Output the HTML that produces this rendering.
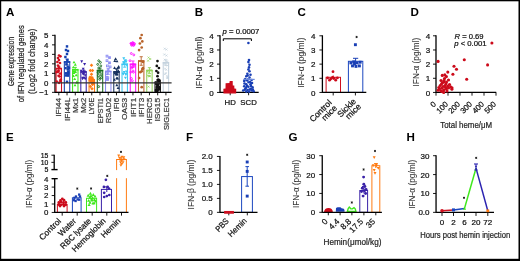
<!DOCTYPE html>
<html><head><meta charset="utf-8"><style>
html,body{margin:0;padding:0;background:#fff;overflow:hidden;}
svg{display:block;will-change:transform;}
text{font-family:"Liberation Sans", sans-serif;}
</style></head><body>
<svg width="520" height="261" viewBox="0 0 520 261">
<rect width="520" height="261" fill="#fff"/>
<rect x="0.00" y="0.00" width="520.00" height="1.30" fill="#000" stroke="none" stroke-width="1"/>
<rect x="0.00" y="0.00" width="1.20" height="261.00" fill="#000" stroke="none" stroke-width="1"/>
<rect x="518.50" y="0.00" width="1.50" height="261.00" fill="#000" stroke="none" stroke-width="1"/>
<rect x="0.00" y="258.80" width="520.00" height="2.20" fill="#000" stroke="none" stroke-width="1"/>
<text x="6.10" y="15.60" font-size="11.6" text-anchor="start" font-weight="bold" fill="#000">A</text>
<text x="194.70" y="15.60" font-size="11.6" text-anchor="start" font-weight="bold" fill="#000">B</text>
<text x="297.50" y="15.80" font-size="11.6" text-anchor="start" font-weight="bold" fill="#000">C</text>
<text x="410.50" y="15.60" font-size="11.6" text-anchor="start" font-weight="bold" fill="#000">D</text>
<text x="5.90" y="141.20" font-size="11.6" text-anchor="start" font-weight="bold" fill="#000">E</text>
<text x="185.90" y="141.20" font-size="11.6" text-anchor="start" font-weight="bold" fill="#000">F</text>
<text x="288.50" y="141.20" font-size="11.6" text-anchor="start" font-weight="bold" fill="#000">G</text>
<text x="406.50" y="141.20" font-size="11.6" text-anchor="start" font-weight="bold" fill="#000">H</text>
<text transform="translate(14.10,61.55) rotate(-90)" font-size="9.9" text-anchor="middle" font-weight="normal" fill="#222" textLength="49.1" lengthAdjust="spacingAndGlyphs" stroke="#222" stroke-width="0.22">Gene expression</text>
<text transform="translate(24.30,63.80) rotate(-90)" font-size="9.9" text-anchor="middle" font-weight="normal" fill="#222" textLength="77.0" lengthAdjust="spacingAndGlyphs" stroke="#222" stroke-width="0.22">of IFN regulated genes</text>
<text transform="translate(34.60,61.30) rotate(-90)" font-size="9.9" text-anchor="middle" font-weight="normal" fill="#222" textLength="65.2" lengthAdjust="spacingAndGlyphs" stroke="#222" stroke-width="0.22">(Log2 fold change)</text>
<line x1="55.00" y1="34.85" x2="55.00" y2="92.85" stroke="#000" stroke-width="1.3"/>
<line x1="52.00" y1="92.35" x2="55.00" y2="92.35" stroke="#000" stroke-width="0.9"/>
<text x="48.30" y="95.25" font-size="7.9" text-anchor="end" font-weight="normal" fill="#111" stroke="#111" stroke-width="0.22">−1</text>
<line x1="52.00" y1="82.85" x2="55.00" y2="82.85" stroke="#000" stroke-width="0.9"/>
<text x="48.30" y="85.75" font-size="7.9" text-anchor="end" font-weight="normal" fill="#111" stroke="#111" stroke-width="0.22">0</text>
<line x1="52.00" y1="73.35" x2="55.00" y2="73.35" stroke="#000" stroke-width="0.9"/>
<text x="48.30" y="76.25" font-size="7.9" text-anchor="end" font-weight="normal" fill="#111" stroke="#111" stroke-width="0.22">1</text>
<line x1="52.00" y1="63.85" x2="55.00" y2="63.85" stroke="#000" stroke-width="0.9"/>
<text x="48.30" y="66.75" font-size="7.9" text-anchor="end" font-weight="normal" fill="#111" stroke="#111" stroke-width="0.22">2</text>
<line x1="52.00" y1="54.35" x2="55.00" y2="54.35" stroke="#000" stroke-width="0.9"/>
<text x="48.30" y="57.25" font-size="7.9" text-anchor="end" font-weight="normal" fill="#111" stroke="#111" stroke-width="0.22">3</text>
<line x1="52.00" y1="44.85" x2="55.00" y2="44.85" stroke="#000" stroke-width="0.9"/>
<text x="48.30" y="47.75" font-size="7.9" text-anchor="end" font-weight="normal" fill="#111" stroke="#111" stroke-width="0.22">4</text>
<line x1="52.00" y1="35.35" x2="55.00" y2="35.35" stroke="#000" stroke-width="0.9"/>
<text x="48.30" y="38.25" font-size="7.9" text-anchor="end" font-weight="normal" fill="#111" stroke="#111" stroke-width="0.22">5</text>
<rect x="56.10" y="68.60" width="5.4" height="23.75" fill="none" stroke="#d0101f" stroke-width="1.05"/>
<line x1="55.60" y1="68.60" x2="62.00" y2="68.60" stroke="#d0101f" stroke-width="1.7"/>
<circle cx="60.33" cy="80.94" r="1.35" fill="#d0101f"/>
<circle cx="57.72" cy="71.97" r="1.35" fill="#d0101f"/>
<circle cx="58.58" cy="75.79" r="1.35" fill="#d0101f"/>
<circle cx="60.07" cy="73.56" r="1.35" fill="#d0101f"/>
<circle cx="56.72" cy="81.51" r="1.35" fill="#d0101f"/>
<circle cx="58.50" cy="70.94" r="1.35" fill="#d0101f"/>
<circle cx="56.61" cy="71.99" r="1.35" fill="#d0101f"/>
<circle cx="59.77" cy="76.50" r="1.35" fill="#d0101f"/>
<circle cx="60.76" cy="79.59" r="1.35" fill="#d0101f"/>
<circle cx="59.00" cy="55.50" r="1.35" fill="#d0101f"/>
<circle cx="60.40" cy="56.30" r="1.35" fill="#d0101f"/>
<circle cx="58.00" cy="58.00" r="1.35" fill="#d0101f"/>
<circle cx="59.00" cy="60.00" r="1.35" fill="#d0101f"/>
<circle cx="57.40" cy="62.00" r="1.35" fill="#d0101f"/>
<circle cx="60.00" cy="63.00" r="1.35" fill="#d0101f"/>
<circle cx="58.00" cy="65.50" r="1.35" fill="#d0101f"/>
<circle cx="59.00" cy="67.50" r="1.35" fill="#d0101f"/>
<circle cx="59.00" cy="82.80" r="1.35" fill="#d0101f"/>
<line x1="58.80" y1="66.22" x2="58.80" y2="70.97" stroke="#d0101f" stroke-width="0.9"/>
<line x1="57.20" y1="66.22" x2="60.40" y2="66.22" stroke="#d0101f" stroke-width="0.9"/>
<line x1="57.20" y1="70.97" x2="60.40" y2="70.97" stroke="#d0101f" stroke-width="0.9"/>
<line x1="58.80" y1="92.35" x2="58.80" y2="95.35" stroke="#000" stroke-width="0.9"/>
<text transform="translate(61.40,97.80) rotate(-90)" font-size="7.6" text-anchor="end" font-weight="normal" fill="#3a3a3a" textLength="18.9" lengthAdjust="spacingAndGlyphs" stroke="#3a3a3a" stroke-width="0.22">IFI44</text>
<rect x="64.34" y="61.95" width="5.4" height="30.40" fill="none" stroke="#1540b0" stroke-width="1.05"/>
<line x1="63.84" y1="61.95" x2="70.24" y2="61.95" stroke="#1540b0" stroke-width="1.7"/>
<rect x="66.72" y="74.41" width="2.43" height="2.43" fill="#1540b0"/>
<rect x="67.76" y="66.64" width="2.43" height="2.43" fill="#1540b0"/>
<rect x="64.75" y="72.07" width="2.43" height="2.43" fill="#1540b0"/>
<rect x="66.52" y="65.47" width="2.43" height="2.43" fill="#1540b0"/>
<rect x="66.64" y="71.62" width="2.43" height="2.43" fill="#1540b0"/>
<rect x="67.05" y="70.28" width="2.43" height="2.43" fill="#1540b0"/>
<rect x="64.61" y="74.25" width="2.43" height="2.43" fill="#1540b0"/>
<rect x="65.20" y="63.09" width="2.43" height="2.43" fill="#1540b0"/>
<rect x="67.16" y="72.22" width="2.43" height="2.43" fill="#1540b0"/>
<rect x="64.28" y="66.93" width="2.43" height="2.43" fill="#1540b0"/>
<rect x="66.55" y="68.08" width="2.43" height="2.43" fill="#1540b0"/>
<rect x="66.49" y="73.58" width="2.43" height="2.43" fill="#1540b0"/>
<rect x="65.78" y="45.18" width="2.43" height="2.43" fill="#1540b0"/>
<rect x="64.78" y="48.78" width="2.43" height="2.43" fill="#1540b0"/>
<rect x="66.78" y="49.78" width="2.43" height="2.43" fill="#1540b0"/>
<rect x="65.78" y="52.78" width="2.43" height="2.43" fill="#1540b0"/>
<rect x="64.19" y="55.78" width="2.43" height="2.43" fill="#1540b0"/>
<rect x="66.19" y="58.78" width="2.43" height="2.43" fill="#1540b0"/>
<rect x="65.78" y="80.58" width="2.43" height="2.43" fill="#1540b0"/>
<line x1="67.04" y1="59.10" x2="67.04" y2="64.80" stroke="#1540b0" stroke-width="0.9"/>
<line x1="65.44" y1="59.10" x2="68.64" y2="59.10" stroke="#1540b0" stroke-width="0.9"/>
<line x1="65.44" y1="64.80" x2="68.64" y2="64.80" stroke="#1540b0" stroke-width="0.9"/>
<line x1="67.04" y1="92.35" x2="67.04" y2="95.35" stroke="#000" stroke-width="0.9"/>
<text transform="translate(69.64,97.80) rotate(-90)" font-size="7.6" text-anchor="end" font-weight="normal" fill="#3a3a3a" textLength="23.3" lengthAdjust="spacingAndGlyphs" stroke="#3a3a3a" stroke-width="0.22">IFI44L</text>
<rect x="72.58" y="69.74" width="5.4" height="22.61" fill="none" stroke="#3fe81c" stroke-width="1.05"/>
<line x1="72.08" y1="69.74" x2="78.48" y2="69.74" stroke="#3fe81c" stroke-width="1.7"/>
<path d="M74.68,76.18L77.65,76.18L76.17,73.50Z" fill="#3fe81c"/>
<path d="M72.46,72.37L75.43,72.37L73.94,69.69Z" fill="#3fe81c"/>
<path d="M75.22,83.38L78.19,83.38L76.71,80.71Z" fill="#3fe81c"/>
<path d="M73.23,80.07L76.20,80.07L74.72,77.40Z" fill="#3fe81c"/>
<path d="M72.40,74.12L75.37,74.12L73.89,71.45Z" fill="#3fe81c"/>
<path d="M73.76,72.95L76.73,72.95L75.24,70.28Z" fill="#3fe81c"/>
<path d="M75.63,83.31L78.60,83.31L77.12,80.63Z" fill="#3fe81c"/>
<path d="M71.94,77.11L74.91,77.11L73.43,74.44Z" fill="#3fe81c"/>
<path d="M72.52,63.34L75.48,63.34L74.00,60.66Z" fill="#3fe81c"/>
<path d="M73.81,65.64L76.78,65.64L75.30,62.96Z" fill="#3fe81c"/>
<path d="M71.81,68.34L74.78,68.34L73.30,65.66Z" fill="#3fe81c"/>
<path d="M73.52,86.34L76.48,86.34L75.00,83.66Z" fill="#3fe81c"/>
<line x1="75.28" y1="67.36" x2="75.28" y2="72.11" stroke="#3fe81c" stroke-width="0.9"/>
<line x1="73.68" y1="67.36" x2="76.88" y2="67.36" stroke="#3fe81c" stroke-width="0.9"/>
<line x1="73.68" y1="72.11" x2="76.88" y2="72.11" stroke="#3fe81c" stroke-width="0.9"/>
<line x1="75.28" y1="92.35" x2="75.28" y2="95.35" stroke="#000" stroke-width="0.9"/>
<text transform="translate(77.88,97.80) rotate(-90)" font-size="7.6" text-anchor="end" font-weight="normal" fill="#3a3a3a" textLength="15.3" lengthAdjust="spacingAndGlyphs" stroke="#3a3a3a" stroke-width="0.22">Mx1</text>
<rect x="80.82" y="71.92" width="5.4" height="20.42" fill="none" stroke="#3a22a8" stroke-width="1.05"/>
<line x1="80.32" y1="71.92" x2="86.72" y2="71.92" stroke="#3a22a8" stroke-width="1.7"/>
<path d="M83.70,74.23L86.67,74.23L85.18,76.90Z" fill="#3a22a8"/>
<path d="M81.08,77.47L84.05,77.47L82.56,80.14Z" fill="#3a22a8"/>
<path d="M82.76,70.40L85.73,70.40L84.24,73.08Z" fill="#3a22a8"/>
<path d="M81.37,76.74L84.34,76.74L82.85,79.41Z" fill="#3a22a8"/>
<path d="M81.77,71.03L84.74,71.03L83.26,73.70Z" fill="#3a22a8"/>
<path d="M83.78,77.50L86.75,77.50L85.26,80.17Z" fill="#3a22a8"/>
<path d="M82.66,76.73L85.63,76.73L84.14,79.40Z" fill="#3a22a8"/>
<path d="M81.86,73.00L84.83,73.00L83.35,75.68Z" fill="#3a22a8"/>
<path d="M80.22,60.36L83.19,60.36L81.70,63.04Z" fill="#3a22a8"/>
<path d="M83.11,63.06L86.08,63.06L84.60,65.74Z" fill="#3a22a8"/>
<path d="M81.72,67.66L84.69,67.66L83.20,70.34Z" fill="#3a22a8"/>
<path d="M79.61,69.66L82.58,69.66L81.10,72.34Z" fill="#3a22a8"/>
<path d="M82.72,70.66L85.69,70.66L84.20,73.34Z" fill="#3a22a8"/>
<line x1="83.52" y1="70.02" x2="83.52" y2="73.82" stroke="#3a22a8" stroke-width="0.9"/>
<line x1="81.92" y1="70.02" x2="85.12" y2="70.02" stroke="#3a22a8" stroke-width="0.9"/>
<line x1="81.92" y1="73.82" x2="85.12" y2="73.82" stroke="#3a22a8" stroke-width="0.9"/>
<line x1="83.52" y1="92.35" x2="83.52" y2="95.35" stroke="#000" stroke-width="0.9"/>
<text transform="translate(86.12,97.80) rotate(-90)" font-size="7.6" text-anchor="end" font-weight="normal" fill="#3a3a3a" textLength="15.3" lengthAdjust="spacingAndGlyphs" stroke="#3a3a3a" stroke-width="0.22">Mx2</text>
<rect x="89.06" y="80.00" width="5.4" height="12.35" fill="none" stroke="#ff7b12" stroke-width="1.05"/>
<line x1="88.56" y1="80.00" x2="94.96" y2="80.00" stroke="#ff7b12" stroke-width="1.7"/>
<path d="M93.48,79.76L95.23,81.51L93.48,83.27L91.72,81.51Z" fill="#ff7b12"/>
<path d="M92.69,81.59L94.45,83.35L92.69,85.10L90.94,83.35Z" fill="#ff7b12"/>
<path d="M91.85,76.11L93.61,77.87L91.85,79.62L90.10,77.87Z" fill="#ff7b12"/>
<path d="M92.76,78.43L94.52,80.18L92.76,81.94L91.01,80.18Z" fill="#ff7b12"/>
<path d="M89.72,77.01L91.48,78.77L89.72,80.52L87.97,78.77Z" fill="#ff7b12"/>
<path d="M91.50,63.54L93.25,65.30L91.50,67.05L89.75,65.30Z" fill="#ff7b12"/>
<path d="M90.40,68.84L92.16,70.60L90.40,72.35L88.65,70.60Z" fill="#ff7b12"/>
<path d="M92.50,68.84L94.25,70.60L92.50,72.35L90.75,70.60Z" fill="#ff7b12"/>
<path d="M91.50,72.45L93.25,74.20L91.50,75.95L89.75,74.20Z" fill="#ff7b12"/>
<path d="M90.00,75.55L91.75,77.30L90.00,79.05L88.25,77.30Z" fill="#ff7b12"/>
<path d="M92.90,77.55L94.66,79.30L92.90,81.05L91.15,79.30Z" fill="#ff7b12"/>
<path d="M90.80,79.65L92.55,81.40L90.80,83.16L89.05,81.40Z" fill="#ff7b12"/>
<path d="M92.50,82.75L94.25,84.50L92.50,86.25L90.75,84.50Z" fill="#ff7b12"/>
<path d="M90.40,84.84L92.16,86.60L90.40,88.35L88.65,86.60Z" fill="#ff7b12"/>
<path d="M92.00,86.95L93.75,88.70L92.00,90.45L90.25,88.70Z" fill="#ff7b12"/>
<line x1="91.76" y1="77.15" x2="91.76" y2="82.85" stroke="#ff7b12" stroke-width="0.9"/>
<line x1="90.16" y1="77.15" x2="93.36" y2="77.15" stroke="#ff7b12" stroke-width="0.9"/>
<line x1="90.16" y1="82.85" x2="93.36" y2="82.85" stroke="#ff7b12" stroke-width="0.9"/>
<line x1="91.76" y1="92.35" x2="91.76" y2="95.35" stroke="#000" stroke-width="0.9"/>
<text transform="translate(94.36,97.80) rotate(-90)" font-size="7.6" text-anchor="end" font-weight="normal" fill="#3a3a3a" textLength="16.8" lengthAdjust="spacingAndGlyphs" stroke="#3a3a3a" stroke-width="0.22">LY6E</text>
<rect x="97.30" y="70.50" width="5.4" height="21.85" fill="none" stroke="#1a6e22" stroke-width="1.05"/>
<line x1="96.80" y1="70.50" x2="103.20" y2="70.50" stroke="#1a6e22" stroke-width="1.7"/>
<circle cx="99.71" cy="79.33" r="0.95" fill="none" stroke="#1a6e22" stroke-width="0.9"/>
<circle cx="99.76" cy="77.66" r="0.95" fill="none" stroke="#1a6e22" stroke-width="0.9"/>
<circle cx="101.59" cy="77.57" r="0.95" fill="none" stroke="#1a6e22" stroke-width="0.9"/>
<circle cx="101.07" cy="74.68" r="0.95" fill="none" stroke="#1a6e22" stroke-width="0.9"/>
<circle cx="99.98" cy="71.20" r="0.95" fill="none" stroke="#1a6e22" stroke-width="0.9"/>
<circle cx="98.36" cy="75.55" r="0.95" fill="none" stroke="#1a6e22" stroke-width="0.9"/>
<circle cx="98.11" cy="72.55" r="0.95" fill="none" stroke="#1a6e22" stroke-width="0.9"/>
<circle cx="98.70" cy="60.70" r="0.95" fill="none" stroke="#1a6e22" stroke-width="0.9"/>
<circle cx="100.40" cy="62.40" r="0.95" fill="none" stroke="#1a6e22" stroke-width="0.9"/>
<circle cx="97.70" cy="64.40" r="0.95" fill="none" stroke="#1a6e22" stroke-width="0.9"/>
<circle cx="100.80" cy="65.90" r="0.95" fill="none" stroke="#1a6e22" stroke-width="0.9"/>
<circle cx="98.70" cy="68.00" r="0.95" fill="none" stroke="#1a6e22" stroke-width="0.9"/>
<circle cx="98.70" cy="86.60" r="0.95" fill="none" stroke="#1a6e22" stroke-width="0.9"/>
<line x1="100.00" y1="68.12" x2="100.00" y2="72.88" stroke="#1a6e22" stroke-width="0.9"/>
<line x1="98.40" y1="68.12" x2="101.60" y2="68.12" stroke="#1a6e22" stroke-width="0.9"/>
<line x1="98.40" y1="72.88" x2="101.60" y2="72.88" stroke="#1a6e22" stroke-width="0.9"/>
<line x1="100.00" y1="92.35" x2="100.00" y2="95.35" stroke="#000" stroke-width="0.9"/>
<text transform="translate(102.60,97.80) rotate(-90)" font-size="7.6" text-anchor="end" font-weight="normal" fill="#3a3a3a" textLength="25.5" lengthAdjust="spacingAndGlyphs" stroke="#3a3a3a" stroke-width="0.22">EPSTI1</text>
<rect x="105.54" y="71.45" width="5.4" height="20.90" fill="none" stroke="#8c8cf2" stroke-width="1.05"/>
<line x1="105.04" y1="71.45" x2="111.44" y2="71.45" stroke="#8c8cf2" stroke-width="1.7"/>
<rect x="106.68" y="78.53" width="1.80" height="1.80" fill="none" stroke="#8c8cf2" stroke-width="0.9"/>
<rect x="106.22" y="78.35" width="1.80" height="1.80" fill="none" stroke="#8c8cf2" stroke-width="0.9"/>
<rect x="105.82" y="72.81" width="1.80" height="1.80" fill="none" stroke="#8c8cf2" stroke-width="0.9"/>
<rect x="106.02" y="76.38" width="1.80" height="1.80" fill="none" stroke="#8c8cf2" stroke-width="0.9"/>
<rect x="107.30" y="69.87" width="1.80" height="1.80" fill="none" stroke="#8c8cf2" stroke-width="0.9"/>
<rect x="106.94" y="76.82" width="1.80" height="1.80" fill="none" stroke="#8c8cf2" stroke-width="0.9"/>
<rect x="106.10" y="55.20" width="1.80" height="1.80" fill="none" stroke="#8c8cf2" stroke-width="0.9"/>
<rect x="108.60" y="56.70" width="1.80" height="1.80" fill="none" stroke="#8c8cf2" stroke-width="0.9"/>
<rect x="106.10" y="59.80" width="1.80" height="1.80" fill="none" stroke="#8c8cf2" stroke-width="0.9"/>
<rect x="108.60" y="61.90" width="1.80" height="1.80" fill="none" stroke="#8c8cf2" stroke-width="0.9"/>
<rect x="106.50" y="65.00" width="1.80" height="1.80" fill="none" stroke="#8c8cf2" stroke-width="0.9"/>
<rect x="109.20" y="66.00" width="1.80" height="1.80" fill="none" stroke="#8c8cf2" stroke-width="0.9"/>
<line x1="108.24" y1="68.60" x2="108.24" y2="74.30" stroke="#8c8cf2" stroke-width="0.9"/>
<line x1="106.64" y1="68.60" x2="109.84" y2="68.60" stroke="#8c8cf2" stroke-width="0.9"/>
<line x1="106.64" y1="74.30" x2="109.84" y2="74.30" stroke="#8c8cf2" stroke-width="0.9"/>
<line x1="108.24" y1="92.35" x2="108.24" y2="95.35" stroke="#000" stroke-width="0.9"/>
<text transform="translate(110.84,97.80) rotate(-90)" font-size="7.6" text-anchor="end" font-weight="normal" fill="#3a3a3a" textLength="25.5" lengthAdjust="spacingAndGlyphs" stroke="#3a3a3a" stroke-width="0.22">RSAD2</text>
<rect x="113.78" y="71.92" width="5.4" height="20.42" fill="none" stroke="#17305e" stroke-width="1.05"/>
<line x1="113.28" y1="71.92" x2="119.68" y2="71.92" stroke="#17305e" stroke-width="1.7"/>
<path d="M115.28,79.24L118.25,79.24L116.77,76.56Z" fill="#17305e"/>
<path d="M115.39,75.46L118.36,75.46L116.87,72.79Z" fill="#17305e"/>
<path d="M117.05,68.77L120.02,68.77L118.53,66.10Z" fill="#17305e"/>
<path d="M116.35,72.31L119.32,72.31L117.84,69.63Z" fill="#17305e"/>
<path d="M114.87,75.13L117.84,75.13L116.35,72.45Z" fill="#17305e"/>
<path d="M117.18,67.74L120.15,67.74L118.66,65.07Z" fill="#17305e"/>
<path d="M115.57,75.06L118.54,75.06L117.06,72.39Z" fill="#17305e"/>
<path d="M116.59,89.12L119.56,89.12L118.07,86.45Z" fill="#17305e"/>
<path d="M115.58,73.16L118.55,73.16L117.07,70.48Z" fill="#17305e"/>
<path d="M115.35,86.29L118.32,86.29L116.84,83.62Z" fill="#17305e"/>
<path d="M113.48,74.14L116.45,74.14L114.97,71.47Z" fill="#17305e"/>
<path d="M116.07,79.50L119.04,79.50L117.55,76.83Z" fill="#17305e"/>
<path d="M115.93,69.34L118.90,69.34L117.42,66.67Z" fill="#17305e"/>
<path d="M116.98,72.27L119.95,72.27L118.46,69.60Z" fill="#17305e"/>
<path d="M113.10,69.04L116.07,69.04L114.58,66.37Z" fill="#17305e"/>
<path d="M112.95,80.85L115.92,80.85L114.43,78.18Z" fill="#17305e"/>
<path d="M114.11,59.94L117.08,59.94L115.60,57.26Z" fill="#17305e"/>
<path d="M113.31,62.04L116.28,62.04L114.80,59.36Z" fill="#17305e"/>
<path d="M115.52,62.34L118.48,62.34L117.00,59.66Z" fill="#17305e"/>
<line x1="116.48" y1="69.07" x2="116.48" y2="74.77" stroke="#17305e" stroke-width="0.9"/>
<line x1="114.88" y1="69.07" x2="118.08" y2="69.07" stroke="#17305e" stroke-width="0.9"/>
<line x1="114.88" y1="74.77" x2="118.08" y2="74.77" stroke="#17305e" stroke-width="0.9"/>
<line x1="116.48" y1="92.35" x2="116.48" y2="95.35" stroke="#000" stroke-width="0.9"/>
<text transform="translate(119.08,97.80) rotate(-90)" font-size="7.6" text-anchor="end" font-weight="normal" fill="#3a3a3a" textLength="13.8" lengthAdjust="spacingAndGlyphs" stroke="#3a3a3a" stroke-width="0.22">IFI6</text>
<rect x="122.02" y="64.32" width="5.4" height="28.03" fill="none" stroke="#3cc6f2" stroke-width="1.05"/>
<line x1="121.52" y1="64.32" x2="127.92" y2="64.32" stroke="#3cc6f2" stroke-width="1.7"/>
<path d="M122.57,62.10L125.54,62.10L124.06,64.77Z" fill="#3cc6f2"/>
<path d="M125.22,63.84L128.19,63.84L126.71,66.51Z" fill="#3cc6f2"/>
<path d="M124.42,73.38L127.39,73.38L125.90,76.06Z" fill="#3cc6f2"/>
<path d="M121.76,72.94L124.73,72.94L123.24,75.61Z" fill="#3cc6f2"/>
<path d="M124.34,72.66L127.31,72.66L125.83,75.34Z" fill="#3cc6f2"/>
<path d="M123.94,76.67L126.91,76.67L125.42,79.34Z" fill="#3cc6f2"/>
<path d="M121.78,72.61L124.75,72.61L123.26,75.28Z" fill="#3cc6f2"/>
<path d="M122.74,71.03L125.71,71.03L124.22,73.71Z" fill="#3cc6f2"/>
<path d="M124.91,70.43L127.88,70.43L126.40,73.10Z" fill="#3cc6f2"/>
<path d="M122.03,61.25L125.00,61.25L123.52,63.93Z" fill="#3cc6f2"/>
<path d="M123.73,59.91L126.70,59.91L125.21,62.58Z" fill="#3cc6f2"/>
<path d="M124.63,60.47L127.60,60.47L126.11,63.14Z" fill="#3cc6f2"/>
<path d="M122.31,57.26L125.28,57.26L123.80,59.94Z" fill="#3cc6f2"/>
<path d="M124.02,59.16L126.98,59.16L125.50,61.84Z" fill="#3cc6f2"/>
<line x1="124.72" y1="61.47" x2="124.72" y2="67.17" stroke="#3cc6f2" stroke-width="0.9"/>
<line x1="123.12" y1="61.47" x2="126.32" y2="61.47" stroke="#3cc6f2" stroke-width="0.9"/>
<line x1="123.12" y1="67.17" x2="126.32" y2="67.17" stroke="#3cc6f2" stroke-width="0.9"/>
<line x1="124.72" y1="92.35" x2="124.72" y2="95.35" stroke="#000" stroke-width="0.9"/>
<text transform="translate(127.32,97.80) rotate(-90)" font-size="7.6" text-anchor="end" font-weight="normal" fill="#3a3a3a" textLength="22.2" lengthAdjust="spacingAndGlyphs" stroke="#3a3a3a" stroke-width="0.22">OAS3</text>
<rect x="130.26" y="64.32" width="5.4" height="28.03" fill="none" stroke="#ff10ff" stroke-width="1.05"/>
<line x1="129.76" y1="64.32" x2="136.16" y2="64.32" stroke="#ff10ff" stroke-width="1.7"/>
<circle cx="131.56" cy="67.99" r="0.95" fill="none" stroke="#ff10ff" stroke-width="0.9"/>
<circle cx="132.35" cy="80.78" r="0.95" fill="none" stroke="#ff10ff" stroke-width="0.9"/>
<circle cx="132.10" cy="66.80" r="0.95" fill="none" stroke="#ff10ff" stroke-width="0.9"/>
<circle cx="133.43" cy="64.34" r="0.95" fill="none" stroke="#ff10ff" stroke-width="0.9"/>
<circle cx="133.44" cy="72.24" r="0.95" fill="none" stroke="#ff10ff" stroke-width="0.9"/>
<circle cx="133.03" cy="70.95" r="0.95" fill="none" stroke="#ff10ff" stroke-width="0.9"/>
<circle cx="133.78" cy="65.86" r="0.95" fill="none" stroke="#ff10ff" stroke-width="0.9"/>
<circle cx="130.79" cy="72.11" r="0.95" fill="none" stroke="#ff10ff" stroke-width="0.9"/>
<circle cx="131.34" cy="78.48" r="0.95" fill="none" stroke="#ff10ff" stroke-width="0.9"/>
<circle cx="130.90" cy="43.40" r="0.95" fill="none" stroke="#ff10ff" stroke-width="0.9"/>
<circle cx="132.60" cy="42.60" r="0.95" fill="none" stroke="#ff10ff" stroke-width="0.9"/>
<circle cx="134.40" cy="43.60" r="0.95" fill="none" stroke="#ff10ff" stroke-width="0.9"/>
<circle cx="131.60" cy="45.20" r="0.95" fill="none" stroke="#ff10ff" stroke-width="0.9"/>
<circle cx="133.60" cy="45.40" r="0.95" fill="none" stroke="#ff10ff" stroke-width="0.9"/>
<circle cx="131.30" cy="53.50" r="0.95" fill="none" stroke="#ff10ff" stroke-width="0.9"/>
<circle cx="133.80" cy="54.90" r="0.95" fill="none" stroke="#ff10ff" stroke-width="0.9"/>
<circle cx="130.00" cy="60.70" r="0.95" fill="none" stroke="#ff10ff" stroke-width="0.9"/>
<line x1="132.96" y1="61.00" x2="132.96" y2="67.65" stroke="#ff10ff" stroke-width="0.9"/>
<line x1="131.36" y1="61.00" x2="134.56" y2="61.00" stroke="#ff10ff" stroke-width="0.9"/>
<line x1="131.36" y1="67.65" x2="134.56" y2="67.65" stroke="#ff10ff" stroke-width="0.9"/>
<line x1="132.96" y1="92.35" x2="132.96" y2="95.35" stroke="#000" stroke-width="0.9"/>
<text transform="translate(135.56,97.80) rotate(-90)" font-size="7.6" text-anchor="end" font-weight="normal" fill="#3a3a3a" textLength="19.2" lengthAdjust="spacingAndGlyphs" stroke="#3a3a3a" stroke-width="0.22">IFIT1</text>
<rect x="138.50" y="61.00" width="5.4" height="31.35" fill="none" stroke="#b8632a" stroke-width="1.05"/>
<line x1="138.00" y1="61.00" x2="144.40" y2="61.00" stroke="#b8632a" stroke-width="1.7"/>
<circle cx="142.39" cy="69.15" r="1.35" fill="#b8632a"/>
<circle cx="140.26" cy="72.19" r="1.35" fill="#b8632a"/>
<circle cx="142.94" cy="68.16" r="1.35" fill="#b8632a"/>
<circle cx="141.70" cy="35.00" r="1.35" fill="#b8632a"/>
<circle cx="140.40" cy="38.20" r="1.35" fill="#b8632a"/>
<circle cx="142.30" cy="41.40" r="1.35" fill="#b8632a"/>
<circle cx="139.90" cy="43.50" r="1.35" fill="#b8632a"/>
<circle cx="141.70" cy="47.50" r="1.35" fill="#b8632a"/>
<circle cx="139.10" cy="50.10" r="1.35" fill="#b8632a"/>
<circle cx="143.00" cy="62.00" r="1.35" fill="#b8632a"/>
<circle cx="141.70" cy="71.30" r="1.35" fill="#b8632a"/>
<circle cx="139.10" cy="78.00" r="1.35" fill="#b8632a"/>
<circle cx="141.70" cy="87.20" r="1.35" fill="#b8632a"/>
<line x1="141.20" y1="56.72" x2="141.20" y2="65.27" stroke="#b8632a" stroke-width="0.9"/>
<line x1="139.60" y1="56.72" x2="142.80" y2="56.72" stroke="#b8632a" stroke-width="0.9"/>
<line x1="139.60" y1="65.27" x2="142.80" y2="65.27" stroke="#b8632a" stroke-width="0.9"/>
<line x1="141.20" y1="92.35" x2="141.20" y2="95.35" stroke="#000" stroke-width="0.9"/>
<text transform="translate(143.80,97.80) rotate(-90)" font-size="7.6" text-anchor="end" font-weight="normal" fill="#3a3a3a" textLength="19.2" lengthAdjust="spacingAndGlyphs" stroke="#3a3a3a" stroke-width="0.22">IFIT3</text>
<rect x="146.74" y="70.50" width="5.4" height="21.85" fill="none" stroke="#94d45a" stroke-width="1.05"/>
<line x1="146.24" y1="70.50" x2="152.64" y2="70.50" stroke="#94d45a" stroke-width="1.7"/>
<path d="M148.24,74.84L150.24,76.84M150.24,74.84L148.24,76.84" stroke="#94d45a" stroke-width="0.7"/>
<path d="M149.42,69.18L151.42,71.18M151.42,69.18L149.42,71.18" stroke="#94d45a" stroke-width="0.7"/>
<path d="M146.63,70.72L148.63,72.72M148.63,70.72L146.63,72.72" stroke="#94d45a" stroke-width="0.7"/>
<path d="M148.83,75.28L150.83,77.28M150.83,75.28L148.83,77.28" stroke="#94d45a" stroke-width="0.7"/>
<path d="M146.83,74.64L148.83,76.64M148.83,74.64L146.83,76.64" stroke="#94d45a" stroke-width="0.7"/>
<path d="M148.30,75.17L150.30,77.17M150.30,75.17L148.30,77.17" stroke="#94d45a" stroke-width="0.7"/>
<path d="M147.60,56.60L149.60,58.60M149.60,56.60L147.60,58.60" stroke="#94d45a" stroke-width="0.7"/>
<path d="M149.20,58.00L151.20,60.00M151.20,58.00L149.20,60.00" stroke="#94d45a" stroke-width="0.7"/>
<path d="M147.10,59.70L149.10,61.70M149.10,59.70L147.10,61.70" stroke="#94d45a" stroke-width="0.7"/>
<path d="M147.60,85.60L149.60,87.60M149.60,85.60L147.60,87.60" stroke="#94d45a" stroke-width="0.7"/>
<line x1="149.44" y1="67.65" x2="149.44" y2="73.35" stroke="#94d45a" stroke-width="0.9"/>
<line x1="147.84" y1="67.65" x2="151.04" y2="67.65" stroke="#94d45a" stroke-width="0.9"/>
<line x1="147.84" y1="73.35" x2="151.04" y2="73.35" stroke="#94d45a" stroke-width="0.9"/>
<line x1="149.44" y1="92.35" x2="149.44" y2="95.35" stroke="#000" stroke-width="0.9"/>
<text transform="translate(152.04,97.80) rotate(-90)" font-size="7.6" text-anchor="end" font-weight="normal" fill="#3a3a3a" textLength="26.1" lengthAdjust="spacingAndGlyphs" stroke="#3a3a3a" stroke-width="0.22">HERC5</text>
<rect x="154.98" y="82.38" width="5.4" height="9.97" fill="none" stroke="#111111" stroke-width="1.05"/>
<line x1="154.48" y1="82.38" x2="160.88" y2="82.38" stroke="#111111" stroke-width="1.7"/>
<circle cx="156.47" cy="83.85" r="1.35" fill="#111111"/>
<circle cx="157.02" cy="91.20" r="1.35" fill="#111111"/>
<circle cx="159.07" cy="88.54" r="1.35" fill="#111111"/>
<circle cx="156.47" cy="90.28" r="1.35" fill="#111111"/>
<circle cx="155.96" cy="90.09" r="1.35" fill="#111111"/>
<circle cx="159.31" cy="82.85" r="1.35" fill="#111111"/>
<circle cx="157.15" cy="86.56" r="1.35" fill="#111111"/>
<circle cx="158.50" cy="87.73" r="1.35" fill="#111111"/>
<circle cx="157.57" cy="90.14" r="1.35" fill="#111111"/>
<circle cx="159.25" cy="89.31" r="1.35" fill="#111111"/>
<circle cx="158.68" cy="83.41" r="1.35" fill="#111111"/>
<circle cx="156.97" cy="87.31" r="1.35" fill="#111111"/>
<circle cx="158.00" cy="79.88" r="1.35" fill="#111111"/>
<circle cx="156.55" cy="84.06" r="1.35" fill="#111111"/>
<circle cx="159.31" cy="80.55" r="1.35" fill="#111111"/>
<circle cx="159.33" cy="80.56" r="1.35" fill="#111111"/>
<circle cx="159.31" cy="87.14" r="1.35" fill="#111111"/>
<circle cx="157.73" cy="84.61" r="1.35" fill="#111111"/>
<circle cx="156.10" cy="91.04" r="1.35" fill="#111111"/>
<circle cx="159.77" cy="82.59" r="1.35" fill="#111111"/>
<circle cx="158.81" cy="81.95" r="1.35" fill="#111111"/>
<circle cx="156.09" cy="82.54" r="1.35" fill="#111111"/>
<circle cx="157.11" cy="83.64" r="1.35" fill="#111111"/>
<circle cx="158.57" cy="79.92" r="1.35" fill="#111111"/>
<circle cx="157.82" cy="85.54" r="1.35" fill="#111111"/>
<circle cx="156.69" cy="89.42" r="1.35" fill="#111111"/>
<circle cx="157.50" cy="61.10" r="1.35" fill="#111111"/>
<circle cx="156.80" cy="65.90" r="1.35" fill="#111111"/>
<circle cx="158.90" cy="68.00" r="1.35" fill="#111111"/>
<circle cx="156.40" cy="71.00" r="1.35" fill="#111111"/>
<circle cx="158.10" cy="72.70" r="1.35" fill="#111111"/>
<circle cx="157.50" cy="76.20" r="1.35" fill="#111111"/>
<line x1="157.68" y1="80.00" x2="157.68" y2="84.75" stroke="#111111" stroke-width="0.9"/>
<line x1="156.08" y1="80.00" x2="159.28" y2="80.00" stroke="#111111" stroke-width="0.9"/>
<line x1="156.08" y1="84.75" x2="159.28" y2="84.75" stroke="#111111" stroke-width="0.9"/>
<line x1="157.68" y1="92.35" x2="157.68" y2="95.35" stroke="#000" stroke-width="0.9"/>
<text transform="translate(160.28,97.80) rotate(-90)" font-size="7.6" text-anchor="end" font-weight="normal" fill="#3a3a3a" textLength="23.8" lengthAdjust="spacingAndGlyphs" stroke="#3a3a3a" stroke-width="0.22">ISG15</text>
<rect x="163.22" y="62.71" width="5.4" height="29.64" fill="none" stroke="#c4d2de" stroke-width="1.05"/>
<line x1="162.72" y1="62.71" x2="169.12" y2="62.71" stroke="#c4d2de" stroke-width="1.7"/>
<path d="M166.72,64.38L168.72,66.38M168.72,64.38L166.72,66.38" stroke="#c4d2de" stroke-width="0.7"/>
<path d="M164.10,67.63L166.10,69.63M166.10,67.63L164.10,69.63" stroke="#c4d2de" stroke-width="0.7"/>
<path d="M163.89,73.19L165.89,75.19M165.89,73.19L163.89,75.19" stroke="#c4d2de" stroke-width="0.7"/>
<path d="M166.22,75.14L168.22,77.14M168.22,75.14L166.22,77.14" stroke="#c4d2de" stroke-width="0.7"/>
<path d="M166.71,76.86L168.71,78.86M168.71,76.86L166.71,78.86" stroke="#c4d2de" stroke-width="0.7"/>
<path d="M164.91,72.19L166.91,74.19M166.91,72.19L164.91,74.19" stroke="#c4d2de" stroke-width="0.7"/>
<path d="M165.25,68.74L167.25,70.74M167.25,68.74L165.25,70.74" stroke="#c4d2de" stroke-width="0.7"/>
<path d="M166.34,77.00L168.34,79.00M168.34,77.00L166.34,79.00" stroke="#c4d2de" stroke-width="0.7"/>
<path d="M163.70,47.70L165.70,49.70M165.70,47.70L163.70,49.70" stroke="#c4d2de" stroke-width="0.7"/>
<path d="M165.50,48.50L167.50,50.50M167.50,48.50L165.50,50.50" stroke="#c4d2de" stroke-width="0.7"/>
<path d="M163.30,53.50L165.30,55.50M165.30,53.50L163.30,55.50" stroke="#c4d2de" stroke-width="0.7"/>
<path d="M165.50,54.50L167.50,56.50M167.50,54.50L165.50,56.50" stroke="#c4d2de" stroke-width="0.7"/>
<path d="M163.70,58.70L165.70,60.70M165.70,58.70L163.70,60.70" stroke="#c4d2de" stroke-width="0.7"/>
<path d="M166.00,60.50L168.00,62.50M168.00,60.50L166.00,62.50" stroke="#c4d2de" stroke-width="0.7"/>
<path d="M163.70,63.00L165.70,65.00M165.70,63.00L163.70,65.00" stroke="#c4d2de" stroke-width="0.7"/>
<line x1="165.92" y1="59.86" x2="165.92" y2="65.56" stroke="#c4d2de" stroke-width="0.9"/>
<line x1="164.32" y1="59.86" x2="167.52" y2="59.86" stroke="#c4d2de" stroke-width="0.9"/>
<line x1="164.32" y1="65.56" x2="167.52" y2="65.56" stroke="#c4d2de" stroke-width="0.9"/>
<line x1="165.92" y1="92.35" x2="165.92" y2="95.35" stroke="#000" stroke-width="0.9"/>
<text transform="translate(168.52,97.80) rotate(-90)" font-size="7.6" text-anchor="end" font-weight="normal" fill="#3a3a3a" textLength="32.2" lengthAdjust="spacingAndGlyphs" stroke="#3a3a3a" stroke-width="0.22">SIGLEC1</text>
<circle cx="131.20" cy="43.60" r="1.2" fill="#ff10ff"/>
<circle cx="133.20" cy="43.00" r="1.2" fill="#ff10ff"/>
<circle cx="132.40" cy="45.00" r="1.2" fill="#ff10ff"/>
<circle cx="134.20" cy="44.40" r="1.2" fill="#ff10ff"/>
<text transform="translate(202.10,62.55) rotate(-90)" font-size="8.4" text-anchor="middle" font-weight="normal" fill="#333" textLength="52.2" lengthAdjust="spacingAndGlyphs" stroke="#333" stroke-width="0.08">IFN-α (pg/ml)</text>
<line x1="220.00" y1="35.31" x2="220.00" y2="92.95" stroke="#000" stroke-width="1.3"/>
<line x1="217.00" y1="92.45" x2="220.00" y2="92.45" stroke="#000" stroke-width="0.9"/>
<text x="213.60" y="95.65" font-size="8.0" text-anchor="end" font-weight="normal" fill="#111" stroke="#111" stroke-width="0.22">0</text>
<line x1="217.00" y1="78.29" x2="220.00" y2="78.29" stroke="#000" stroke-width="0.9"/>
<text x="213.60" y="81.49" font-size="8.0" text-anchor="end" font-weight="normal" fill="#111" stroke="#111" stroke-width="0.22">1</text>
<line x1="217.00" y1="64.13" x2="220.00" y2="64.13" stroke="#000" stroke-width="0.9"/>
<text x="213.60" y="67.33" font-size="8.0" text-anchor="end" font-weight="normal" fill="#111" stroke="#111" stroke-width="0.22">2</text>
<line x1="217.00" y1="49.97" x2="220.00" y2="49.97" stroke="#000" stroke-width="0.9"/>
<text x="213.60" y="53.17" font-size="8.0" text-anchor="end" font-weight="normal" fill="#111" stroke="#111" stroke-width="0.22">3</text>
<line x1="217.00" y1="35.81" x2="220.00" y2="35.81" stroke="#000" stroke-width="0.9"/>
<text x="213.60" y="39.01" font-size="8.0" text-anchor="end" font-weight="normal" fill="#111" stroke="#111" stroke-width="0.22">4</text>
<line x1="220.00" y1="92.45" x2="258.70" y2="92.45" stroke="#000" stroke-width="1.3"/>
<line x1="230.20" y1="92.45" x2="230.20" y2="95.25" stroke="#000" stroke-width="0.9"/>
<text x="230.20" y="104.80" font-size="7.8" text-anchor="middle" font-weight="normal" fill="#111" stroke="#111" stroke-width="0.22">HD</text>
<line x1="248.60" y1="92.45" x2="248.60" y2="95.25" stroke="#000" stroke-width="0.9"/>
<text x="248.60" y="104.80" font-size="7.8" text-anchor="middle" font-weight="normal" fill="#111" stroke="#111" stroke-width="0.22">SCD</text>
<path d="M223.3,41 L223.3,38.8 L251.4,38.8 L251.4,41" fill="none" stroke="#000" stroke-width="1"/>
<text x="222.60" y="34.20" font-size="7.6" text-anchor="start" font-weight="normal" fill="#111" textLength="36.8" lengthAdjust="spacingAndGlyphs" stroke="#111" stroke-width="0.22"><tspan font-style="italic">p</tspan> = 0.0007</text>
<path d="M223.4,93.4 L223.4,88.8 L225.5,88.6 L225.6,83.2 L229.4,82.9 L229.7,81 L232.7,81 L232.8,85.4 L234.3,85.6 L234.4,88.6 L236.2,88.8 L236.2,93.4 Z" fill="#cc0a1a"/>
<circle cx="248.40" cy="43.00" r="1.3" fill="#1a3fb5"/>
<circle cx="249.00" cy="60.00" r="1.3" fill="#1a3fb5"/>
<circle cx="248.40" cy="62.10" r="1.3" fill="#1a3fb5"/>
<circle cx="249.50" cy="64.80" r="1.3" fill="#1a3fb5"/>
<circle cx="249.00" cy="67.40" r="1.3" fill="#1a3fb5"/>
<circle cx="248.40" cy="69.50" r="1.3" fill="#1a3fb5"/>
<circle cx="249.50" cy="71.20" r="1.3" fill="#1a3fb5"/>
<circle cx="247.40" cy="73.70" r="1.3" fill="#1a3fb5"/>
<circle cx="250.50" cy="74.70" r="1.3" fill="#1a3fb5"/>
<circle cx="246.30" cy="76.20" r="1.3" fill="#1a3fb5"/>
<circle cx="249.50" cy="77.50" r="1.3" fill="#1a3fb5"/>
<circle cx="245.30" cy="79.00" r="1.3" fill="#1a3fb5"/>
<circle cx="251.60" cy="80.00" r="1.3" fill="#1a3fb5"/>
<circle cx="244.20" cy="81.00" r="1.3" fill="#1a3fb5"/>
<circle cx="248.40" cy="82.10" r="1.3" fill="#1a3fb5"/>
<circle cx="246.30" cy="84.20" r="1.3" fill="#1a3fb5"/>
<circle cx="250.50" cy="84.20" r="1.3" fill="#1a3fb5"/>
<circle cx="244.20" cy="86.30" r="1.3" fill="#1a3fb5"/>
<circle cx="248.40" cy="86.70" r="1.3" fill="#1a3fb5"/>
<circle cx="252.60" cy="87.40" r="1.3" fill="#1a3fb5"/>
<circle cx="245.30" cy="88.80" r="1.3" fill="#1a3fb5"/>
<circle cx="249.50" cy="89.50" r="1.3" fill="#1a3fb5"/>
<circle cx="243.20" cy="90.50" r="1.3" fill="#1a3fb5"/>
<circle cx="251.60" cy="90.50" r="1.3" fill="#1a3fb5"/>
<circle cx="246.30" cy="91.60" r="1.3" fill="#1a3fb5"/>
<circle cx="253.70" cy="91.20" r="1.3" fill="#1a3fb5"/>
<circle cx="247.40" cy="90.10" r="1.3" fill="#1a3fb5"/>
<circle cx="248.00" cy="79.50" r="1.3" fill="#1a3fb5"/>
<circle cx="250.00" cy="82.00" r="1.3" fill="#1a3fb5"/>
<circle cx="246.00" cy="87.80" r="1.3" fill="#1a3fb5"/>
<circle cx="251.00" cy="86.00" r="1.3" fill="#1a3fb5"/>
<circle cx="247.60" cy="75.50" r="1.3" fill="#1a3fb5"/>
<circle cx="244.50" cy="83.50" r="1.3" fill="#1a3fb5"/>
<circle cx="252.00" cy="83.00" r="1.3" fill="#1a3fb5"/>
<circle cx="246.80" cy="80.20" r="1.3" fill="#1a3fb5"/>
<circle cx="250.80" cy="88.80" r="1.3" fill="#1a3fb5"/>
<circle cx="244.80" cy="89.80" r="1.3" fill="#1a3fb5"/>
<circle cx="249.00" cy="91.60" r="1.3" fill="#1a3fb5"/>
<circle cx="252.80" cy="89.60" r="1.3" fill="#1a3fb5"/>
<circle cx="247.00" cy="86.00" r="1.3" fill="#1a3fb5"/>
<line x1="243.20" y1="79.40" x2="254.70" y2="79.40" stroke="#6a88dc" stroke-width="1.2"/>
<line x1="248.60" y1="77.20" x2="248.60" y2="81.60" stroke="#6a88dc" stroke-width="1"/>
<text transform="translate(303.90,62.80) rotate(-90)" font-size="8.4" text-anchor="middle" font-weight="normal" fill="#333" textLength="50.1" lengthAdjust="spacingAndGlyphs" stroke="#333" stroke-width="0.08">IFN-α (pg/ml)</text>
<line x1="322.40" y1="35.31" x2="322.40" y2="92.95" stroke="#000" stroke-width="1.3"/>
<line x1="319.40" y1="92.45" x2="322.40" y2="92.45" stroke="#000" stroke-width="0.9"/>
<text x="315.40" y="95.55" font-size="8.0" text-anchor="end" font-weight="normal" fill="#111" stroke="#111" stroke-width="0.22">0</text>
<line x1="319.40" y1="78.29" x2="322.40" y2="78.29" stroke="#000" stroke-width="0.9"/>
<text x="315.40" y="81.39" font-size="8.0" text-anchor="end" font-weight="normal" fill="#111" stroke="#111" stroke-width="0.22">1</text>
<line x1="319.40" y1="64.13" x2="322.40" y2="64.13" stroke="#000" stroke-width="0.9"/>
<text x="315.40" y="67.23" font-size="8.0" text-anchor="end" font-weight="normal" fill="#111" stroke="#111" stroke-width="0.22">2</text>
<line x1="319.40" y1="49.97" x2="322.40" y2="49.97" stroke="#000" stroke-width="0.9"/>
<text x="315.40" y="53.07" font-size="8.0" text-anchor="end" font-weight="normal" fill="#111" stroke="#111" stroke-width="0.22">3</text>
<line x1="319.40" y1="35.81" x2="322.40" y2="35.81" stroke="#000" stroke-width="0.9"/>
<text x="315.40" y="38.91" font-size="8.0" text-anchor="end" font-weight="normal" fill="#111" stroke="#111" stroke-width="0.22">4</text>
<rect x="326.1" y="77.30" width="14.4" height="15.15" fill="none" stroke="#d0101f" stroke-width="1"/>
<rect x="348.4" y="61.30" width="14.4" height="31.15" fill="none" stroke="#1c48c0" stroke-width="1"/>
<circle cx="333.00" cy="71.70" r="1.4" fill="#cc0a1a"/>
<circle cx="327.60" cy="77.90" r="1.4" fill="#cc0a1a"/>
<circle cx="330.70" cy="79.00" r="1.4" fill="#cc0a1a"/>
<circle cx="334.10" cy="78.30" r="1.4" fill="#cc0a1a"/>
<circle cx="337.40" cy="77.90" r="1.4" fill="#cc0a1a"/>
<circle cx="329.50" cy="80.20" r="1.4" fill="#cc0a1a"/>
<circle cx="335.70" cy="80.20" r="1.4" fill="#cc0a1a"/>
<circle cx="332.50" cy="77.50" r="1.4" fill="#cc0a1a"/>
<line x1="333.20" y1="75.50" x2="333.20" y2="80.00" stroke="#cc0a1a" stroke-width="1"/>
<rect x="349.45" y="61.45" width="2.9" height="2.9" fill="#1a3fb5"/>
<rect x="352.25" y="60.35" width="2.9" height="2.9" fill="#1a3fb5"/>
<rect x="355.65" y="61.45" width="2.9" height="2.9" fill="#1a3fb5"/>
<rect x="358.75" y="60.75" width="2.9" height="2.9" fill="#1a3fb5"/>
<rect x="351.05" y="64.45" width="2.9" height="2.9" fill="#1a3fb5"/>
<rect x="354.55" y="64.95" width="2.9" height="2.9" fill="#1a3fb5"/>
<rect x="357.95" y="64.45" width="2.9" height="2.9" fill="#1a3fb5"/>
<rect x="353.95" y="43.25" width="2.9" height="2.9" fill="#1a3fb5"/>
<rect x="353.05" y="62.55" width="2.9" height="2.9" fill="#1a3fb5"/>
<line x1="355.60" y1="58.30" x2="355.60" y2="64.00" stroke="#1a3fb5" stroke-width="1"/>
<line x1="353.00" y1="58.30" x2="358.20" y2="58.30" stroke="#1a3fb5" stroke-width="1"/>
<path d="M356.60,35.90V38.10M355.64,36.45L357.56,37.55M357.56,36.45L355.64,37.55" stroke="#111" stroke-width="0.8"/>
<line x1="333.20" y1="92.45" x2="333.20" y2="95.45" stroke="#000" stroke-width="0.9"/>
<line x1="355.40" y1="92.45" x2="355.40" y2="95.45" stroke="#000" stroke-width="0.9"/>
<text transform="translate(332.30,103.20) rotate(-45)" font-size="8.5" text-anchor="end" font-weight="normal" fill="#111" stroke="#111" stroke-width="0.22">Control</text>
<text transform="translate(337.60,108.60) rotate(-45)" font-size="8.5" text-anchor="end" font-weight="normal" fill="#111" stroke="#111" stroke-width="0.22">mice</text>
<text transform="translate(356.50,101.90) rotate(-45)" font-size="8.5" text-anchor="end" font-weight="normal" fill="#111" textLength="22.4" lengthAdjust="spacingAndGlyphs" stroke="#111" stroke-width="0.22">Sickle</text>
<text transform="translate(361.50,107.10) rotate(-45)" font-size="8.5" text-anchor="end" font-weight="normal" fill="#111" stroke="#111" stroke-width="0.22">mice</text>
<text transform="translate(418.50,62.10) rotate(-90)" font-size="8.4" text-anchor="middle" font-weight="normal" fill="#333" textLength="48.7" lengthAdjust="spacingAndGlyphs" stroke="#333" stroke-width="0.08">IFN-α (pg/ml)</text>
<line x1="436.00" y1="35.31" x2="436.00" y2="92.95" stroke="#000" stroke-width="1.3"/>
<line x1="433.00" y1="92.45" x2="436.00" y2="92.45" stroke="#000" stroke-width="0.9"/>
<text x="430.20" y="95.55" font-size="8.0" text-anchor="end" font-weight="normal" fill="#111" stroke="#111" stroke-width="0.22">0</text>
<line x1="433.00" y1="78.29" x2="436.00" y2="78.29" stroke="#000" stroke-width="0.9"/>
<text x="430.20" y="81.39" font-size="8.0" text-anchor="end" font-weight="normal" fill="#111" stroke="#111" stroke-width="0.22">1</text>
<line x1="433.00" y1="64.13" x2="436.00" y2="64.13" stroke="#000" stroke-width="0.9"/>
<text x="430.20" y="67.23" font-size="8.0" text-anchor="end" font-weight="normal" fill="#111" stroke="#111" stroke-width="0.22">2</text>
<line x1="433.00" y1="49.97" x2="436.00" y2="49.97" stroke="#000" stroke-width="0.9"/>
<text x="430.20" y="53.07" font-size="8.0" text-anchor="end" font-weight="normal" fill="#111" stroke="#111" stroke-width="0.22">3</text>
<line x1="433.00" y1="35.81" x2="436.00" y2="35.81" stroke="#000" stroke-width="0.9"/>
<text x="430.20" y="38.91" font-size="8.0" text-anchor="end" font-weight="normal" fill="#111" stroke="#111" stroke-width="0.22">4</text>
<line x1="436.00" y1="92.45" x2="496.20" y2="92.45" stroke="#000" stroke-width="1.3"/>
<line x1="436.00" y1="92.45" x2="436.00" y2="95.65" stroke="#000" stroke-width="0.9"/>
<text transform="translate(436.60,104.80) rotate(-45)" font-size="7.8" text-anchor="end" font-weight="normal" fill="#111" stroke="#111" stroke-width="0.22">0</text>
<line x1="448.00" y1="92.45" x2="448.00" y2="95.65" stroke="#000" stroke-width="0.9"/>
<text transform="translate(448.60,104.80) rotate(-45)" font-size="7.8" text-anchor="end" font-weight="normal" fill="#111" stroke="#111" stroke-width="0.22">100</text>
<line x1="460.00" y1="92.45" x2="460.00" y2="95.65" stroke="#000" stroke-width="0.9"/>
<text transform="translate(460.60,104.80) rotate(-45)" font-size="7.8" text-anchor="end" font-weight="normal" fill="#111" stroke="#111" stroke-width="0.22">200</text>
<line x1="472.00" y1="92.45" x2="472.00" y2="95.65" stroke="#000" stroke-width="0.9"/>
<text transform="translate(472.60,104.80) rotate(-45)" font-size="7.8" text-anchor="end" font-weight="normal" fill="#111" stroke="#111" stroke-width="0.22">300</text>
<line x1="484.00" y1="92.45" x2="484.00" y2="95.65" stroke="#000" stroke-width="0.9"/>
<text transform="translate(484.60,104.80) rotate(-45)" font-size="7.8" text-anchor="end" font-weight="normal" fill="#111" stroke="#111" stroke-width="0.22">400</text>
<line x1="496.00" y1="92.45" x2="496.00" y2="95.65" stroke="#000" stroke-width="0.9"/>
<text transform="translate(496.60,104.80) rotate(-45)" font-size="7.8" text-anchor="end" font-weight="normal" fill="#111" stroke="#111" stroke-width="0.22">500</text>
<text x="466.20" y="127.70" font-size="9.4" text-anchor="middle" font-weight="normal" fill="#222" textLength="52" lengthAdjust="spacingAndGlyphs" stroke="#222" stroke-width="0.22">Total heme/μM</text>
<text x="454.60" y="38.50" font-size="7.6" text-anchor="start" font-weight="normal" fill="#111" textLength="29" lengthAdjust="spacingAndGlyphs" stroke="#111" stroke-width="0.22"><tspan font-style="italic">R</tspan> = 0.69</text>
<text x="454.20" y="45.90" font-size="7.6" text-anchor="start" font-weight="normal" fill="#111" textLength="32.5" lengthAdjust="spacingAndGlyphs" stroke="#111" stroke-width="0.22"><tspan font-style="italic">p</tspan> &lt; 0.001</text>
<circle cx="491.90" cy="43.00" r="1.55" fill="#cc0a1a"/>
<circle cx="438.10" cy="61.40" r="1.55" fill="#cc0a1a"/>
<circle cx="464.30" cy="59.80" r="1.55" fill="#cc0a1a"/>
<circle cx="487.60" cy="64.90" r="1.55" fill="#cc0a1a"/>
<circle cx="454.00" cy="66.20" r="1.55" fill="#cc0a1a"/>
<circle cx="456.50" cy="69.20" r="1.55" fill="#cc0a1a"/>
<circle cx="447.80" cy="72.10" r="1.55" fill="#cc0a1a"/>
<circle cx="452.90" cy="74.20" r="1.55" fill="#cc0a1a"/>
<circle cx="466.70" cy="79.30" r="1.55" fill="#cc0a1a"/>
<circle cx="442.30" cy="75.40" r="1.55" fill="#cc0a1a"/>
<circle cx="444.80" cy="74.90" r="1.55" fill="#cc0a1a"/>
<circle cx="446.40" cy="76.60" r="1.55" fill="#cc0a1a"/>
<circle cx="448.50" cy="80.00" r="1.55" fill="#cc0a1a"/>
<circle cx="443.70" cy="82.10" r="1.55" fill="#cc0a1a"/>
<circle cx="442.30" cy="82.80" r="1.55" fill="#cc0a1a"/>
<circle cx="440.20" cy="85.50" r="1.55" fill="#cc0a1a"/>
<circle cx="445.00" cy="85.50" r="1.55" fill="#cc0a1a"/>
<circle cx="447.80" cy="86.20" r="1.55" fill="#cc0a1a"/>
<circle cx="450.60" cy="86.90" r="1.55" fill="#cc0a1a"/>
<circle cx="438.80" cy="87.60" r="1.55" fill="#cc0a1a"/>
<circle cx="441.60" cy="88.30" r="1.55" fill="#cc0a1a"/>
<circle cx="443.70" cy="89.70" r="1.55" fill="#cc0a1a"/>
<circle cx="446.40" cy="89.00" r="1.55" fill="#cc0a1a"/>
<circle cx="451.90" cy="89.20" r="1.55" fill="#cc0a1a"/>
<circle cx="438.10" cy="90.30" r="1.55" fill="#cc0a1a"/>
<circle cx="443.70" cy="92.40" r="1.55" fill="#cc0a1a"/>
<circle cx="440.90" cy="91.00" r="1.55" fill="#cc0a1a"/>
<circle cx="444.50" cy="78.50" r="1.55" fill="#cc0a1a"/>
<circle cx="441.00" cy="80.50" r="1.55" fill="#cc0a1a"/>
<circle cx="446.00" cy="84.00" r="1.55" fill="#cc0a1a"/>
<circle cx="441.50" cy="84.00" r="1.55" fill="#cc0a1a"/>
<circle cx="443.00" cy="86.50" r="1.55" fill="#cc0a1a"/>
<circle cx="439.50" cy="89.00" r="1.55" fill="#cc0a1a"/>
<circle cx="442.00" cy="91.50" r="1.55" fill="#cc0a1a"/>
<circle cx="445.50" cy="87.50" r="1.55" fill="#cc0a1a"/>
<circle cx="448.50" cy="88.00" r="1.55" fill="#cc0a1a"/>
<circle cx="444.00" cy="80.50" r="1.55" fill="#cc0a1a"/>
<circle cx="446.50" cy="82.00" r="1.55" fill="#cc0a1a"/>
<circle cx="449.50" cy="84.50" r="1.55" fill="#cc0a1a"/>
<circle cx="452.00" cy="87.80" r="1.55" fill="#cc0a1a"/>
<circle cx="447.00" cy="91.00" r="1.55" fill="#cc0a1a"/>
<text transform="translate(32.20,183.90) rotate(-90)" font-size="8.4" text-anchor="middle" font-weight="normal" fill="#333" textLength="48.0" lengthAdjust="spacingAndGlyphs" stroke="#333" stroke-width="0.08">IFN-α (pg/ml)</text>
<line x1="54.20" y1="154.70" x2="54.20" y2="169.50" stroke="#000" stroke-width="1.3"/>
<line x1="51.40" y1="155.20" x2="54.20" y2="155.20" stroke="#000" stroke-width="0.9"/>
<line x1="51.40" y1="162.35" x2="54.20" y2="162.35" stroke="#000" stroke-width="0.9"/>
<line x1="51.40" y1="169.60" x2="57.60" y2="169.60" stroke="#000" stroke-width="1.4"/>
<text x="48.30" y="157.80" font-size="7.0" text-anchor="end" font-weight="normal" fill="#111" textLength="7.6" lengthAdjust="spacingAndGlyphs" stroke="#111" stroke-width="0.22">15</text>
<text x="48.30" y="164.70" font-size="7.0" text-anchor="end" font-weight="normal" fill="#111" textLength="7.6" lengthAdjust="spacingAndGlyphs" stroke="#111" stroke-width="0.22">10</text>
<text x="48.30" y="171.60" font-size="7.0" text-anchor="end" font-weight="normal" fill="#111" stroke="#111" stroke-width="0.22">5</text>
<line x1="54.70" y1="178.65" x2="54.70" y2="212.95" stroke="#000" stroke-width="1.3"/>
<line x1="51.70" y1="178.65" x2="57.70" y2="178.65" stroke="#000" stroke-width="1.3"/>
<line x1="51.70" y1="212.45" x2="54.70" y2="212.45" stroke="#000" stroke-width="0.9"/>
<text x="48.30" y="215.35" font-size="7.9" text-anchor="end" font-weight="normal" fill="#111" stroke="#111" stroke-width="0.22">0</text>
<line x1="51.70" y1="204.00" x2="54.70" y2="204.00" stroke="#000" stroke-width="0.9"/>
<text x="48.30" y="206.90" font-size="7.9" text-anchor="end" font-weight="normal" fill="#111" stroke="#111" stroke-width="0.22">1</text>
<line x1="51.70" y1="195.55" x2="54.70" y2="195.55" stroke="#000" stroke-width="0.9"/>
<text x="48.30" y="198.45" font-size="7.9" text-anchor="end" font-weight="normal" fill="#111" stroke="#111" stroke-width="0.22">2</text>
<line x1="51.70" y1="187.10" x2="54.70" y2="187.10" stroke="#000" stroke-width="0.9"/>
<text x="48.30" y="190.00" font-size="7.9" text-anchor="end" font-weight="normal" fill="#111" stroke="#111" stroke-width="0.22">3</text>
<line x1="51.70" y1="178.65" x2="54.70" y2="178.65" stroke="#000" stroke-width="0.9"/>
<text x="48.30" y="181.55" font-size="7.9" text-anchor="end" font-weight="normal" fill="#111" stroke="#111" stroke-width="0.22">4</text>
<rect x="57.40" y="204.40" width="9.70" height="8.05" fill="none" stroke="#d0101f" stroke-width="1"/>
<rect x="72.40" y="197.80" width="8.70" height="14.65" fill="none" stroke="#1c48c0" stroke-width="1"/>
<rect x="86.50" y="198.30" width="10.10" height="14.15" fill="none" stroke="#3fe81c" stroke-width="1"/>
<rect x="101.40" y="189.40" width="10.10" height="23.05" fill="none" stroke="#3a22a8" stroke-width="1"/>
<circle cx="62.30" cy="198.80" r="1.4" fill="#cc0a1a"/>
<circle cx="60.50" cy="200.50" r="1.4" fill="#cc0a1a"/>
<circle cx="64.00" cy="200.20" r="1.4" fill="#cc0a1a"/>
<circle cx="58.80" cy="202.50" r="1.4" fill="#cc0a1a"/>
<circle cx="61.00" cy="202.20" r="1.4" fill="#cc0a1a"/>
<circle cx="63.50" cy="202.50" r="1.4" fill="#cc0a1a"/>
<circle cx="65.80" cy="202.50" r="1.4" fill="#cc0a1a"/>
<circle cx="58.80" cy="204.50" r="1.4" fill="#cc0a1a"/>
<circle cx="61.00" cy="204.80" r="1.4" fill="#cc0a1a"/>
<circle cx="63.50" cy="204.50" r="1.4" fill="#cc0a1a"/>
<circle cx="65.80" cy="204.80" r="1.4" fill="#cc0a1a"/>
<circle cx="60.00" cy="206.00" r="1.4" fill="#cc0a1a"/>
<circle cx="64.00" cy="206.00" r="1.4" fill="#cc0a1a"/>
<rect x="73.25" y="196.65" width="2.3" height="2.3" fill="#1a3fb5"/>
<rect x="74.85" y="195.35" width="2.3" height="2.3" fill="#1a3fb5"/>
<rect x="78.05" y="193.45" width="2.3" height="2.3" fill="#1a3fb5"/>
<rect x="78.85" y="195.35" width="2.3" height="2.3" fill="#1a3fb5"/>
<rect x="72.85" y="199.05" width="2.3" height="2.3" fill="#1a3fb5"/>
<rect x="76.45" y="198.25" width="2.3" height="2.3" fill="#1a3fb5"/>
<rect x="74.45" y="199.85" width="2.3" height="2.3" fill="#1a3fb5"/>
<rect x="78.05" y="198.55" width="2.3" height="2.3" fill="#1a3fb5"/>
<path d="M86.60,196.74L89.80,196.74L88.20,193.86Z" fill="#3fe81c"/>
<path d="M88.80,194.74L92.00,194.74L90.40,191.86Z" fill="#3fe81c"/>
<path d="M91.70,195.94L94.90,195.94L93.30,193.06Z" fill="#3fe81c"/>
<path d="M93.40,197.54L96.60,197.54L95.00,194.66Z" fill="#3fe81c"/>
<path d="M88.30,198.44L91.50,198.44L89.90,195.56Z" fill="#3fe81c"/>
<path d="M90.80,199.24L94.00,199.24L92.40,196.36Z" fill="#3fe81c"/>
<path d="M92.90,200.94L96.10,200.94L94.50,198.06Z" fill="#3fe81c"/>
<path d="M87.10,201.84L90.30,201.84L88.70,198.96Z" fill="#3fe81c"/>
<path d="M92.50,204.34L95.70,204.34L94.10,201.46Z" fill="#3fe81c"/>
<path d="M87.50,206.04L90.70,206.04L89.10,203.16Z" fill="#3fe81c"/>
<path d="M89.40,196.94L92.60,196.94L91.00,194.06Z" fill="#3fe81c"/>
<path d="M90.40,201.44L93.60,201.44L92.00,198.56Z" fill="#3fe81c"/>
<path d="M89.90,200.44L93.10,200.44L91.50,197.56Z" fill="#3fe81c"/>
<path d="M91.40,204.44L94.60,204.44L93.00,201.56Z" fill="#3fe81c"/>
<path d="M93.90,202.44L97.10,202.44L95.50,199.56Z" fill="#3fe81c"/>
<path d="M88.40,203.64L91.60,203.64L90.00,200.76Z" fill="#3fe81c"/>
<circle cx="105.90" cy="179.80" r="1.35" fill="#3a22a8"/>
<circle cx="103.90" cy="186.90" r="1.35" fill="#3a22a8"/>
<circle cx="107.60" cy="186.90" r="1.35" fill="#3a22a8"/>
<circle cx="109.00" cy="188.50" r="1.35" fill="#3a22a8"/>
<circle cx="104.20" cy="192.80" r="1.35" fill="#3a22a8"/>
<circle cx="109.30" cy="195.00" r="1.35" fill="#3a22a8"/>
<circle cx="104.20" cy="197.00" r="1.35" fill="#3a22a8"/>
<circle cx="106.80" cy="196.10" r="1.35" fill="#3a22a8"/>
<line x1="106.80" y1="186.90" x2="106.80" y2="192.00" stroke="#3a22a8" stroke-width="1"/>
<line x1="104.80" y1="186.90" x2="108.80" y2="186.90" stroke="#3a22a8" stroke-width="1"/>
<path d="M77.30,187.50V189.70M76.34,188.05L78.26,189.15M78.26,188.05L76.34,189.15" stroke="#111" stroke-width="0.8"/>
<path d="M91.10,187.40V189.60M90.14,187.95L92.06,189.05M92.06,187.95L90.14,189.05" stroke="#111" stroke-width="0.8"/>
<path d="M107.30,174.80V177.00M106.34,175.35L108.26,176.45M108.26,175.35L106.34,176.45" stroke="#111" stroke-width="0.8"/>
<line x1="116.60" y1="212.45" x2="116.60" y2="178.20" stroke="#ff7b12" stroke-width="1"/>
<line x1="126.40" y1="212.45" x2="126.40" y2="178.20" stroke="#ff7b12" stroke-width="1"/>
<line x1="116.60" y1="170.10" x2="116.60" y2="159.50" stroke="#ff7b12" stroke-width="1"/>
<line x1="126.40" y1="170.10" x2="126.40" y2="159.50" stroke="#ff7b12" stroke-width="1"/>
<line x1="116.10" y1="159.50" x2="126.90" y2="159.50" stroke="#ff7b12" stroke-width="1"/>
<path d="M117.20,154.45L120.20,154.45L118.70,157.15Z" fill="#ff7b12"/>
<path d="M120.50,155.85L123.50,155.85L122.00,158.55Z" fill="#ff7b12"/>
<path d="M122.30,156.35L125.30,156.35L123.80,159.05Z" fill="#ff7b12"/>
<path d="M118.60,158.65L121.60,158.65L120.10,161.35Z" fill="#ff7b12"/>
<path d="M120.00,159.55L123.00,159.55L121.50,162.25Z" fill="#ff7b12"/>
<path d="M121.40,158.65L124.40,158.65L122.90,161.35Z" fill="#ff7b12"/>
<path d="M119.10,161.35L122.10,161.35L120.60,164.05Z" fill="#ff7b12"/>
<path d="M120.30,162.75L123.30,162.75L121.80,165.45Z" fill="#ff7b12"/>
<path d="M119.40,164.15L122.40,164.15L120.90,166.85Z" fill="#ff7b12"/>
<path d="M118.00,156.65L121.00,156.65L119.50,159.35Z" fill="#ff7b12"/>
<path d="M122.50,158.15L125.50,158.15L124.00,160.85Z" fill="#ff7b12"/>
<path d="M119.50,157.15L122.50,157.15L121.00,159.85Z" fill="#ff7b12"/>
<path d="M121.50,161.15L124.50,161.15L123.00,163.85Z" fill="#ff7b12"/>
<path d="M121.00,150.80V153.00M120.04,151.35L121.96,152.45M121.96,151.35L120.04,152.45" stroke="#111" stroke-width="0.8"/>
<line x1="62.20" y1="212.45" x2="62.20" y2="215.65" stroke="#000" stroke-width="0.9"/>
<line x1="77.20" y1="212.45" x2="77.20" y2="215.65" stroke="#000" stroke-width="0.9"/>
<line x1="92.20" y1="212.45" x2="92.20" y2="215.65" stroke="#000" stroke-width="0.9"/>
<line x1="106.80" y1="212.45" x2="106.80" y2="215.65" stroke="#000" stroke-width="0.9"/>
<line x1="121.50" y1="212.45" x2="121.50" y2="215.65" stroke="#000" stroke-width="0.9"/>
<text transform="translate(61.60,221.60) rotate(-45)" font-size="8.4" text-anchor="end" font-weight="normal" fill="#111" textLength="27.0" lengthAdjust="spacingAndGlyphs" stroke="#111" stroke-width="0.22">Control</text>
<text transform="translate(76.60,221.60) rotate(-45)" font-size="8.4" text-anchor="end" font-weight="normal" fill="#111" textLength="21.4" lengthAdjust="spacingAndGlyphs" stroke="#111" stroke-width="0.22">Water</text>
<text transform="translate(91.60,221.60) rotate(-45)" font-size="8.4" text-anchor="end" font-weight="normal" fill="#111" textLength="39.6" lengthAdjust="spacingAndGlyphs" stroke="#111" stroke-width="0.22">RBC lysate</text>
<text transform="translate(106.20,221.60) rotate(-45)" font-size="8.4" text-anchor="end" font-weight="normal" fill="#111" textLength="43.6" lengthAdjust="spacingAndGlyphs" stroke="#111" stroke-width="0.22">Hemoglobin</text>
<text transform="translate(120.90,221.60) rotate(-45)" font-size="8.4" text-anchor="end" font-weight="normal" fill="#111" textLength="23.4" lengthAdjust="spacingAndGlyphs" stroke="#111" stroke-width="0.22">Hemin</text>
<text transform="translate(193.60,184.60) rotate(-90)" font-size="8.4" text-anchor="middle" font-weight="normal" fill="#333" textLength="49.7" lengthAdjust="spacingAndGlyphs" stroke="#333" stroke-width="0.08">IFN-β (pg/ml)</text>
<line x1="219.95" y1="155.95" x2="219.95" y2="212.85" stroke="#000" stroke-width="1.3"/>
<line x1="216.95" y1="212.35" x2="219.95" y2="212.35" stroke="#000" stroke-width="0.9"/>
<text x="212.80" y="215.15" font-size="8.0" text-anchor="end" font-weight="normal" fill="#111" stroke="#111" stroke-width="0.22">0</text>
<line x1="216.95" y1="198.38" x2="219.95" y2="198.38" stroke="#000" stroke-width="0.9"/>
<text x="212.80" y="201.18" font-size="8.0" text-anchor="end" font-weight="normal" fill="#111" stroke="#111" stroke-width="0.22">0.5</text>
<line x1="216.95" y1="184.40" x2="219.95" y2="184.40" stroke="#000" stroke-width="0.9"/>
<text x="212.80" y="187.20" font-size="8.0" text-anchor="end" font-weight="normal" fill="#111" stroke="#111" stroke-width="0.22">1.0</text>
<line x1="216.95" y1="170.43" x2="219.95" y2="170.43" stroke="#000" stroke-width="0.9"/>
<text x="212.80" y="173.23" font-size="8.0" text-anchor="end" font-weight="normal" fill="#111" stroke="#111" stroke-width="0.22">1.5</text>
<line x1="216.95" y1="156.45" x2="219.95" y2="156.45" stroke="#000" stroke-width="0.9"/>
<text x="212.80" y="159.25" font-size="8.0" text-anchor="end" font-weight="normal" fill="#111" stroke="#111" stroke-width="0.22">2.0</text>
<rect x="241.6" y="176.57" width="10.8" height="35.78" fill="none" stroke="#1c48c0" stroke-width="1"/>
<line x1="247.20" y1="166.60" x2="247.20" y2="186.20" stroke="#1c48c0" stroke-width="1"/>
<line x1="245.40" y1="166.60" x2="249.00" y2="166.60" stroke="#1c48c0" stroke-width="1"/>
<line x1="245.40" y1="186.20" x2="249.00" y2="186.20" stroke="#1c48c0" stroke-width="1"/>
<rect x="245.75" y="160.55" width="2.9" height="2.9" fill="#1a3fb5"/>
<rect x="245.75" y="169.95" width="2.9" height="2.9" fill="#1a3fb5"/>
<rect x="245.75" y="194.65" width="2.9" height="2.9" fill="#1a3fb5"/>
<path d="M247.20,153.70V155.90M246.24,154.25L248.16,155.35M248.16,154.25L246.24,155.35" stroke="#111" stroke-width="0.8"/>
<line x1="228.80" y1="212.35" x2="228.80" y2="215.35" stroke="#000" stroke-width="0.9"/>
<line x1="247.30" y1="212.35" x2="247.30" y2="215.35" stroke="#000" stroke-width="0.9"/>
<text transform="translate(229.40,221.80) rotate(-45)" font-size="8.4" text-anchor="end" font-weight="normal" fill="#111" textLength="15.0" lengthAdjust="spacingAndGlyphs" stroke="#111" stroke-width="0.22">PBS</text>
<text transform="translate(247.30,221.40) rotate(-45)" font-size="8.4" text-anchor="end" font-weight="normal" fill="#111" textLength="22.6" lengthAdjust="spacingAndGlyphs" stroke="#111" stroke-width="0.22">Hemin</text>
<text transform="translate(299.40,183.85) rotate(-90)" font-size="8.4" text-anchor="middle" font-weight="normal" fill="#333" textLength="48.2" lengthAdjust="spacingAndGlyphs" stroke="#333" stroke-width="0.08">IFN-α (pg/ml)</text>
<line x1="322.25" y1="155.19" x2="322.25" y2="212.80" stroke="#000" stroke-width="1.3"/>
<line x1="319.25" y1="212.30" x2="322.25" y2="212.30" stroke="#000" stroke-width="0.9"/>
<text x="315.10" y="215.30" font-size="8.0" text-anchor="end" font-weight="normal" fill="#111" stroke="#111" stroke-width="0.22">0</text>
<line x1="319.25" y1="193.43" x2="322.25" y2="193.43" stroke="#000" stroke-width="0.9"/>
<text x="315.10" y="196.43" font-size="8.0" text-anchor="end" font-weight="normal" fill="#111" stroke="#111" stroke-width="0.22">10</text>
<line x1="319.25" y1="174.56" x2="322.25" y2="174.56" stroke="#000" stroke-width="0.9"/>
<text x="315.10" y="177.56" font-size="8.0" text-anchor="end" font-weight="normal" fill="#111" stroke="#111" stroke-width="0.22">20</text>
<line x1="319.25" y1="155.69" x2="322.25" y2="155.69" stroke="#000" stroke-width="0.9"/>
<text x="315.10" y="158.69" font-size="8.0" text-anchor="end" font-weight="normal" fill="#111" stroke="#111" stroke-width="0.22">30</text>
<path d="M324,212.4 C324,209.5 326,208 328.5,208 C331,208 332.9,209.5 332.9,212.4 C331,213.3 326,213.3 324,212.4 Z" fill="#cc0a1a"/>
<path d="M335.8,211.8 L336,208 L337.5,207.3 L340.5,207.3 L341.5,208.3 L343.8,208.7 L344.5,210 L344.5,211.8 Z" fill="#1a3fb5"/>
<path d="M347.4,211.4 L348.2,208.6 L349.3,207.1 L350.8,208.8 L352.4,208.9 L354,207.6 L355.2,208.8 L355.9,211.4 Z" fill="none" stroke="#3fe81c" stroke-width="1.4"/>
<path d="M351.80,201.40V203.60M350.84,201.95L352.76,203.05M352.76,201.95L350.84,203.05" stroke="#111" stroke-width="0.8"/>
<rect x="359.8" y="190.5" width="7.8" height="21.80" fill="none" stroke="#3a22a8" stroke-width="1"/>
<circle cx="363.60" cy="177.10" r="1.45" fill="#3a22a8"/>
<circle cx="363.80" cy="184.20" r="1.45" fill="#3a22a8"/>
<circle cx="364.90" cy="186.50" r="1.45" fill="#3a22a8"/>
<circle cx="362.30" cy="188.20" r="1.45" fill="#3a22a8"/>
<circle cx="366.10" cy="189.50" r="1.45" fill="#3a22a8"/>
<circle cx="361.50" cy="191.50" r="1.45" fill="#3a22a8"/>
<circle cx="365.60" cy="193.50" r="1.45" fill="#3a22a8"/>
<circle cx="363.10" cy="196.10" r="1.45" fill="#3a22a8"/>
<circle cx="364.50" cy="190.80" r="1.45" fill="#3a22a8"/>
<line x1="363.90" y1="186.50" x2="363.90" y2="193.50" stroke="#3a22a8" stroke-width="1"/>
<line x1="362.00" y1="186.50" x2="365.80" y2="186.50" stroke="#3a22a8" stroke-width="1"/>
<path d="M363.60,168.40V170.60M362.64,168.95L364.56,170.05M364.56,168.95L362.64,170.05" stroke="#111" stroke-width="0.8"/>
<rect x="371.9" y="165.7" width="7.9" height="46.60" fill="none" stroke="#ff7b12" stroke-width="1"/>
<path d="M372.70,156.25L375.70,156.25L374.20,158.95Z" fill="#ff7b12"/>
<path d="M371.70,164.35L374.70,164.35L373.20,167.05Z" fill="#ff7b12"/>
<path d="M374.80,164.85L377.80,164.85L376.30,167.55Z" fill="#ff7b12"/>
<path d="M376.80,166.95L379.80,166.95L378.30,169.65Z" fill="#ff7b12"/>
<path d="M372.70,168.95L375.70,168.95L374.20,171.65Z" fill="#ff7b12"/>
<path d="M373.50,171.95L376.50,171.95L375.00,174.65Z" fill="#ff7b12"/>
<path d="M375.00,163.15L378.00,163.15L376.50,165.85Z" fill="#ff7b12"/>
<line x1="375.80" y1="163.60" x2="375.80" y2="168.00" stroke="#ff7b12" stroke-width="1"/>
<line x1="374.00" y1="163.60" x2="377.60" y2="163.60" stroke="#ff7b12" stroke-width="1"/>
<path d="M375.00,149.90V152.10M374.04,150.45L375.96,151.55M375.96,150.45L374.04,151.55" stroke="#111" stroke-width="0.8"/>
<line x1="328.30" y1="212.30" x2="328.30" y2="215.30" stroke="#000" stroke-width="0.9"/>
<line x1="340.10" y1="212.30" x2="340.10" y2="215.30" stroke="#000" stroke-width="0.9"/>
<line x1="351.90" y1="212.30" x2="351.90" y2="215.30" stroke="#000" stroke-width="0.9"/>
<line x1="363.90" y1="212.30" x2="363.90" y2="215.30" stroke="#000" stroke-width="0.9"/>
<line x1="375.80" y1="212.30" x2="375.80" y2="215.30" stroke="#000" stroke-width="0.9"/>
<text transform="translate(328.20,222.00) rotate(-45)" font-size="8.2" text-anchor="end" font-weight="normal" fill="#111" stroke="#111" stroke-width="0.22">0</text>
<text transform="translate(340.00,222.00) rotate(-45)" font-size="8.2" text-anchor="end" font-weight="normal" fill="#111" stroke="#111" stroke-width="0.22">4.4</text>
<text transform="translate(351.80,222.00) rotate(-45)" font-size="8.2" text-anchor="end" font-weight="normal" fill="#111" stroke="#111" stroke-width="0.22">8.8</text>
<text transform="translate(363.80,222.00) rotate(-45)" font-size="8.2" text-anchor="end" font-weight="normal" fill="#111" stroke="#111" stroke-width="0.22">17.5</text>
<text transform="translate(375.70,222.00) rotate(-45)" font-size="8.2" text-anchor="end" font-weight="normal" fill="#111" stroke="#111" stroke-width="0.22">35</text>
<text x="352.50" y="245.40" font-size="9.4" text-anchor="middle" font-weight="normal" fill="#222" textLength="58" lengthAdjust="spacingAndGlyphs" stroke="#222" stroke-width="0.22">Hemin(μmol/kg)</text>
<text transform="translate(414.80,184.25) rotate(-90)" font-size="8.4" text-anchor="middle" font-weight="normal" fill="#333" textLength="49.0" lengthAdjust="spacingAndGlyphs" stroke="#333" stroke-width="0.08">IFN-α (pg/ml)</text>
<line x1="436.05" y1="155.21" x2="436.05" y2="212.85" stroke="#000" stroke-width="1.3"/>
<line x1="433.05" y1="212.35" x2="436.05" y2="212.35" stroke="#000" stroke-width="0.9"/>
<text x="429.50" y="215.35" font-size="8.0" text-anchor="end" font-weight="normal" fill="#111" stroke="#111" stroke-width="0.22">0.0</text>
<line x1="433.05" y1="193.47" x2="436.05" y2="193.47" stroke="#000" stroke-width="0.9"/>
<text x="429.50" y="196.47" font-size="8.0" text-anchor="end" font-weight="normal" fill="#111" stroke="#111" stroke-width="0.22">10</text>
<line x1="433.05" y1="174.59" x2="436.05" y2="174.59" stroke="#000" stroke-width="0.9"/>
<text x="429.50" y="177.59" font-size="8.0" text-anchor="end" font-weight="normal" fill="#111" stroke="#111" stroke-width="0.22">20</text>
<line x1="433.05" y1="155.71" x2="436.05" y2="155.71" stroke="#000" stroke-width="0.9"/>
<text x="429.50" y="158.71" font-size="8.0" text-anchor="end" font-weight="normal" fill="#111" stroke="#111" stroke-width="0.22">30</text>
<line x1="436.05" y1="212.35" x2="494.00" y2="212.35" stroke="#000" stroke-width="1.3"/>
<line x1="442.00" y1="210.84" x2="453.50" y2="209.90" stroke="#d0101f" stroke-width="1.5"/>
<line x1="453.50" y1="209.90" x2="464.50" y2="208.39" stroke="#1c48c0" stroke-width="1.5"/>
<line x1="464.50" y1="208.39" x2="476.00" y2="168.17" stroke="#3fe81c" stroke-width="1.5"/>
<line x1="476.00" y1="168.17" x2="487.80" y2="210.84" stroke="#2a22b0" stroke-width="1.5"/>
<circle cx="442.00" cy="210.84" r="1.8" fill="#d0101f"/>
<rect x="452.00" y="208.40" width="3.0" height="3.0" fill="#1c48c0"/>
<path d="M462.90,209.83L466.10,209.83L464.50,206.95Z" fill="#3fe81c"/>
<path d="M474.70,165.63L477.30,165.63L476.00,167.97Z" fill="#2a22b0"/>
<rect x="486.40" y="209.44" width="2.8" height="2.8" fill="#ff7b12"/>
<line x1="476.00" y1="164.00" x2="476.00" y2="170.20" stroke="#2a22b0" stroke-width="1"/>
<line x1="474.00" y1="164.00" x2="478.00" y2="164.00" stroke="#2a22b0" stroke-width="1.1"/>
<line x1="474.40" y1="170.00" x2="477.60" y2="170.00" stroke="#2a22b0" stroke-width="1.0"/>
<path d="M464.00,196.70V198.90M463.04,197.25L464.96,198.35M464.96,197.25L463.04,198.35" stroke="#111" stroke-width="0.8"/>
<path d="M476.20,156.80V159.00M475.24,157.35L477.16,158.45M477.16,157.35L475.24,158.45" stroke="#111" stroke-width="0.8"/>
<line x1="442.00" y1="212.35" x2="442.00" y2="215.95" stroke="#000" stroke-width="0.9"/>
<text x="442.00" y="225.20" font-size="8.0" text-anchor="middle" font-weight="normal" fill="#111" stroke="#111" stroke-width="0.22">0</text>
<line x1="453.50" y1="212.35" x2="453.50" y2="215.95" stroke="#000" stroke-width="0.9"/>
<text x="453.50" y="225.20" font-size="8.0" text-anchor="middle" font-weight="normal" fill="#111" stroke="#111" stroke-width="0.22">2</text>
<line x1="464.50" y1="212.35" x2="464.50" y2="215.95" stroke="#000" stroke-width="0.9"/>
<text x="464.50" y="225.20" font-size="8.0" text-anchor="middle" font-weight="normal" fill="#111" stroke="#111" stroke-width="0.22">6</text>
<line x1="476.00" y1="212.35" x2="476.00" y2="215.95" stroke="#000" stroke-width="0.9"/>
<text x="476.00" y="225.20" font-size="8.0" text-anchor="middle" font-weight="normal" fill="#111" stroke="#111" stroke-width="0.22">20</text>
<line x1="487.80" y1="212.35" x2="487.80" y2="215.95" stroke="#000" stroke-width="0.9"/>
<text x="487.80" y="225.20" font-size="8.0" text-anchor="middle" font-weight="normal" fill="#111" stroke="#111" stroke-width="0.22">72</text>
<text x="465.20" y="237.70" font-size="9.4" text-anchor="middle" font-weight="normal" fill="#222" textLength="90" lengthAdjust="spacingAndGlyphs" stroke="#222" stroke-width="0.22">Hours post hemin injection</text>
<line x1="55.00" y1="82.85" x2="171.60" y2="82.85" stroke="#333" stroke-width="1.3"/>
<line x1="55.00" y1="92.35" x2="171.60" y2="92.35" stroke="#000" stroke-width="1.3"/>
<line x1="322.40" y1="92.45" x2="366.30" y2="92.45" stroke="#000" stroke-width="1.3"/>
<line x1="54.70" y1="212.45" x2="128.50" y2="212.45" stroke="#000" stroke-width="1.3"/>
<line x1="219.95" y1="212.35" x2="257.50" y2="212.35" stroke="#000" stroke-width="1.3"/>
<line x1="224.10" y1="212.35" x2="233.90" y2="212.35" stroke="#cc1020" stroke-width="2.8"/>
<line x1="322.25" y1="212.30" x2="381.90" y2="212.30" stroke="#000" stroke-width="1.3"/>
</svg>
</body></html>
